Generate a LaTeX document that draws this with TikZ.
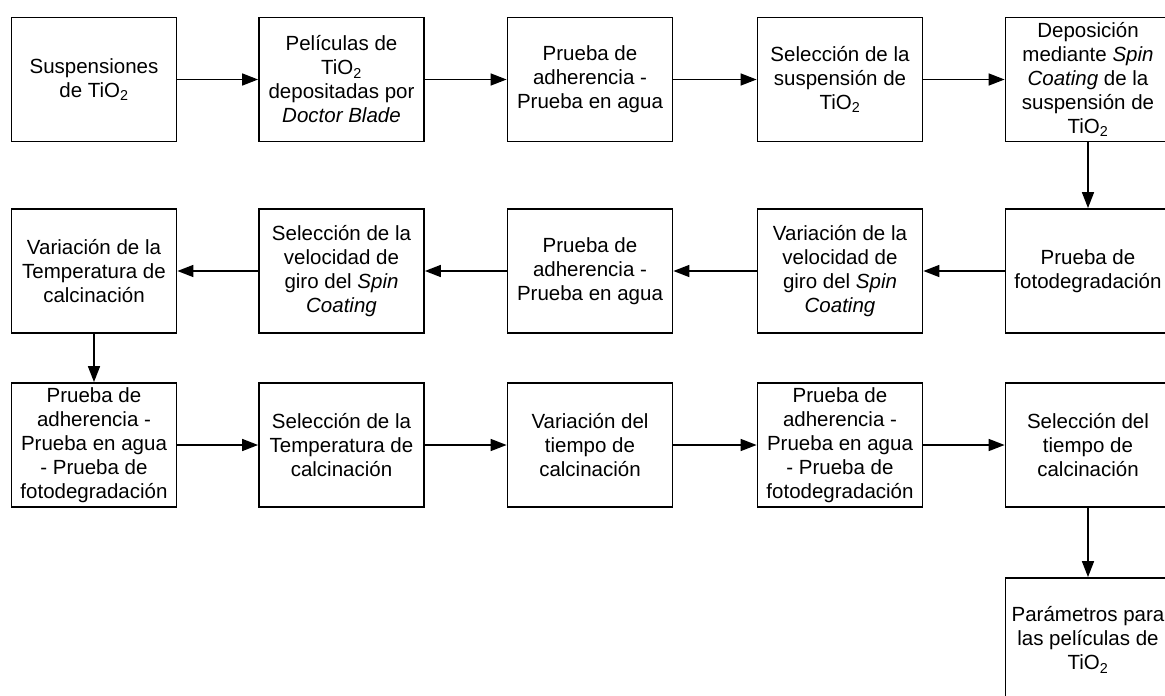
\documentclass[tikz,border=0pt]{standalone}
\usepackage{fontspec}
\setmainfont{Liberation Sans}
\usetikzlibrary{arrows.meta}
\begin{document}
\begin{tikzpicture}[x=1pt,y=-1pt,
  box/.style={draw, line width=1.8pt, minimum width=165pt, minimum height=124pt,
    inner sep=0pt, align=center, font=\fontsize{20.5}{24}\selectfont},
  flow/.style={line width=1.6pt, -{Triangle[length=16pt,width=12pt]}}]
\clip (0,0) rectangle (1165,696);
\fill[white] (0,0) rectangle (1165,696);

% first row (left to right)
\node[box] (a1) at (94,79.5)    {Suspensiones\\de TiO\textsubscript{2}};
\node[box] (a2) at (341.5,79.5) {Películas de\\TiO\textsubscript{2}\\depositadas por\\\textit{Doctor Blade}};
\node[box] (a3) at (590,79.5)   {Prueba de\\adherencia -\\Prueba en agua};
\node[box] (a4) at (840,79.5)   {Selección de la\\suspensión de\\TiO\textsubscript{2}};
\node[box] (a5) at (1088,79.5)  {Deposición\\mediante \textit{Spin}\\\textit{Coating} de la\\suspensión de\\TiO\textsubscript{2}};

% second row (right to left)
\node[box] (b5) at (1088,271)  {Prueba de\\fotodegradación};
\node[box] (b4) at (840,271)   {Variación de la\\velocidad de\\giro del \textit{Spin}\\\textit{Coating}};
\node[box] (b3) at (590,271)   {Prueba de\\adherencia -\\Prueba en agua};
\node[box] (b2) at (341.5,271) {Selección de la\\velocidad de\\giro del \textit{Spin}\\\textit{Coating}};
\node[box] (b1) at (94,271)    {Variación de la\\Temperatura de\\calcinación};

% third row (left to right)
\node[box] (c1) at (94,445)    {Prueba de\\adherencia -\\Prueba en agua\\- Prueba de\\fotodegradación};
\node[box] (c2) at (341.5,445) {Selección de la\\Temperatura de\\calcinación};
\node[box] (c3) at (590,445)   {Variación del\\tiempo de\\calcinación};
\node[box] (c4) at (840,445)   {Prueba de\\adherencia -\\Prueba en agua\\- Prueba de\\fotodegradación};
\node[box] (c5) at (1088,445)  {Selección del\\tiempo de\\calcinación};

% result
\node[box] (d5) at (1088,640)  {Parámetros para\\las películas de\\TiO\textsubscript{2}};

% connectors
\draw[flow] (a1) -- (a2);
\draw[flow] (a2) -- (a3);
\draw[flow] (a3) -- (a4);
\draw[flow] (a4) -- (a5);
\draw[flow] (a5) -- (b5);
\draw[flow] (b5) -- (b4);
\draw[flow] (b4) -- (b3);
\draw[flow] (b3) -- (b2);
\draw[flow] (b2) -- (b1);
\draw[flow] (b1) -- (c1);
\draw[flow] (c1) -- (c2);
\draw[flow] (c2) -- (c3);
\draw[flow] (c3) -- (c4);
\draw[flow] (c4) -- (c5);
\draw[flow] (c5) -- (d5);
\end{tikzpicture}
\end{document}
